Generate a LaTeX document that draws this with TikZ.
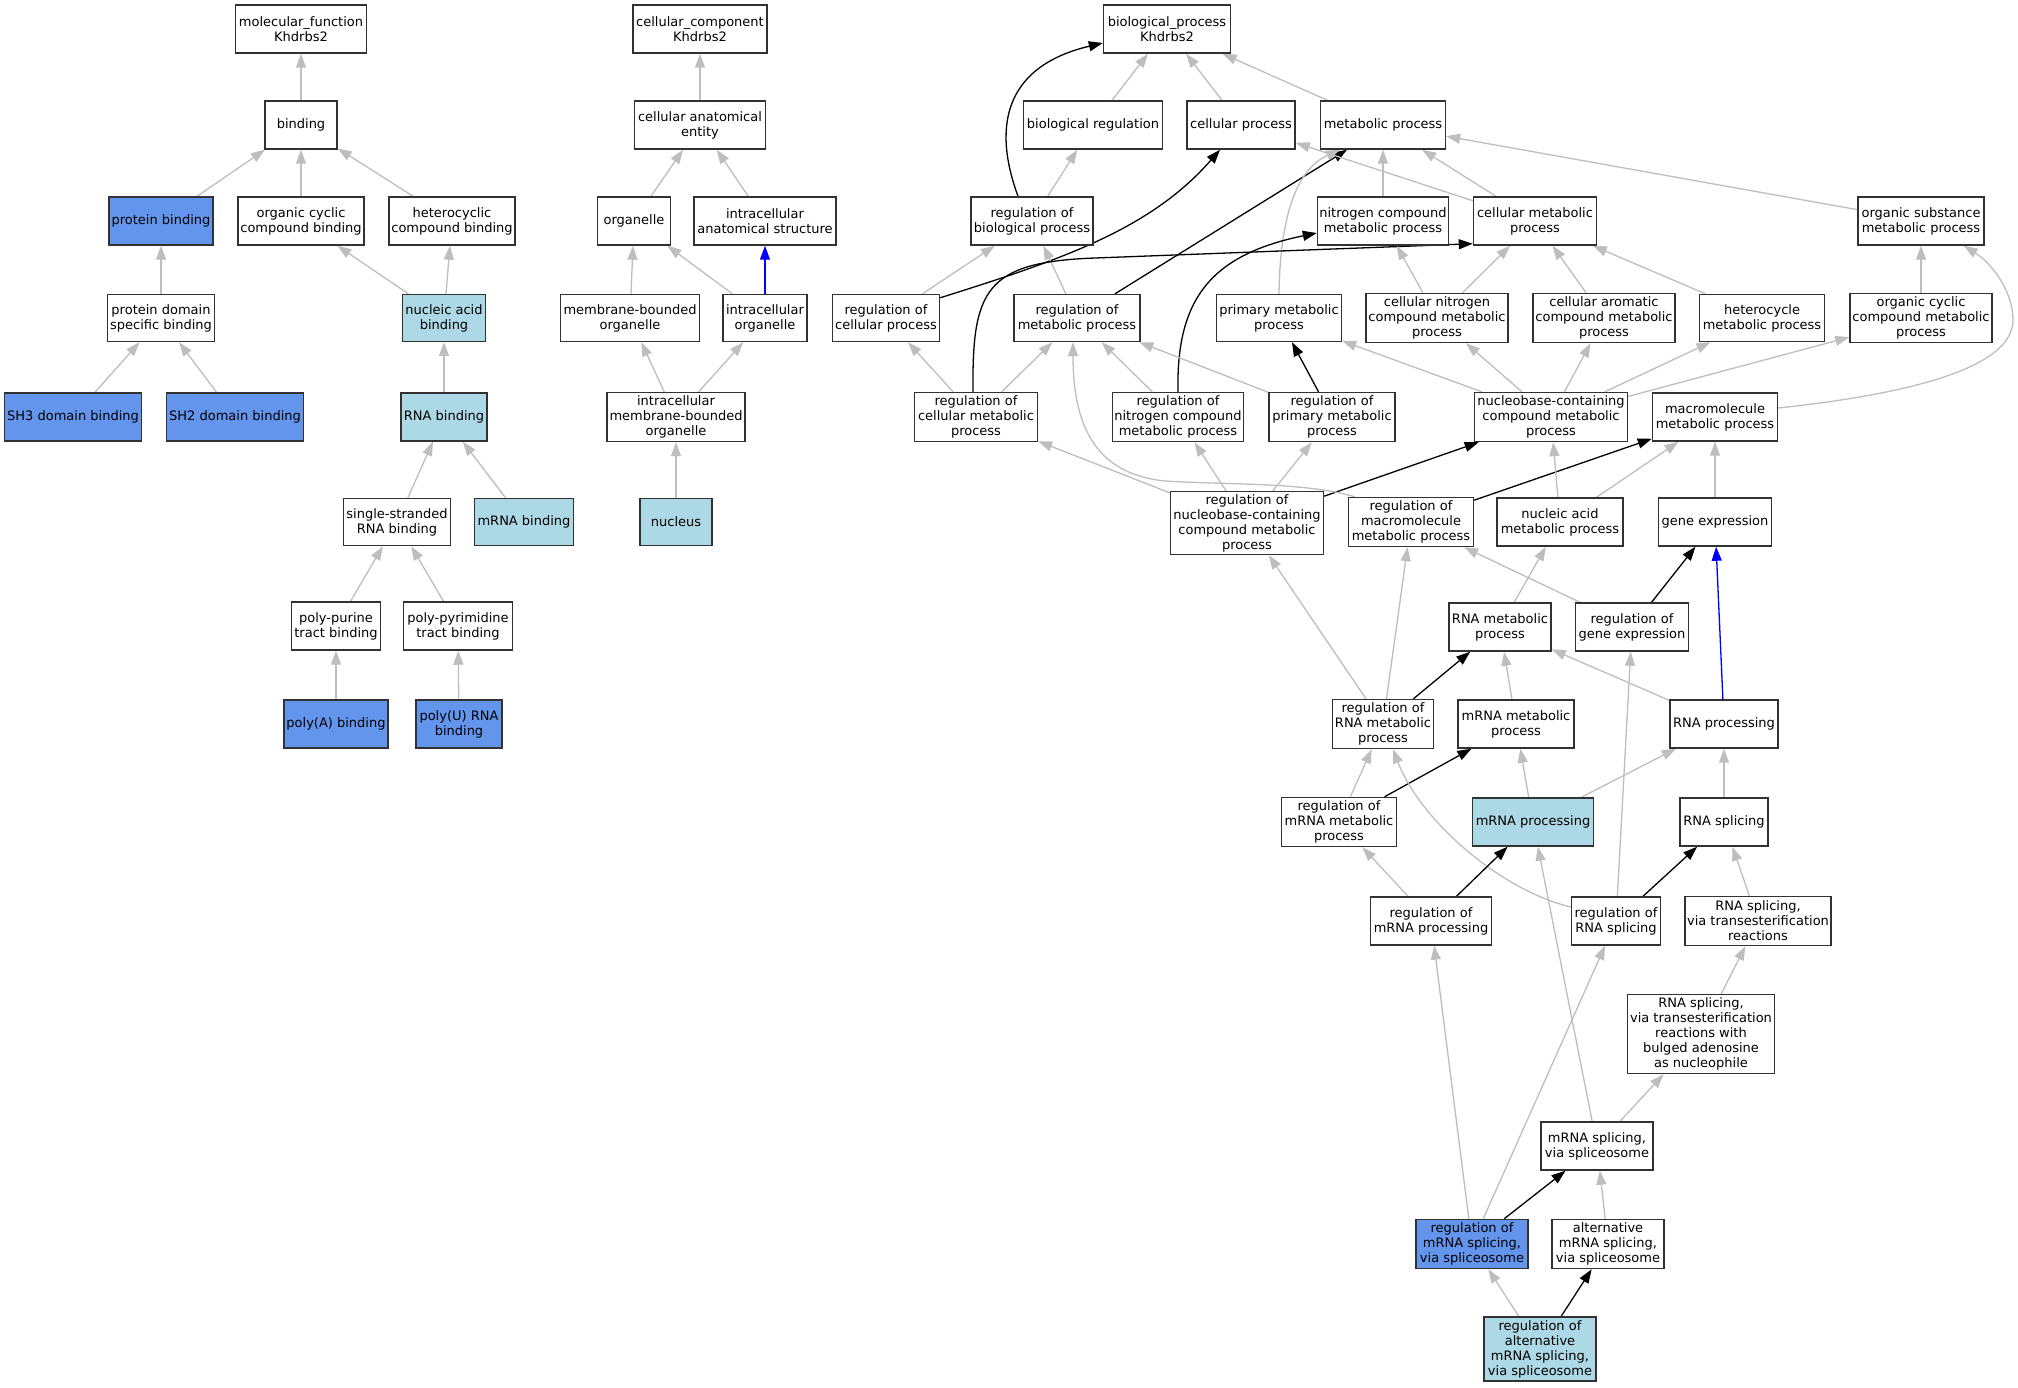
\documentclass[tikz,border=0pt]{standalone}
\usepackage{fontspec}
\setmainfont{DejaVu Sans}
\usetikzlibrary{arrows.meta,calc}
\definecolor{edgegray}{RGB}{190,190,190}
\definecolor{cfblue}{RGB}{100,149,237}
\definecolor{ltblue}{RGB}{173,216,230}
\definecolor{boxline}{RGB}{50,50,50}
\pgfdeclarelayer{bg}
\pgfsetlayers{bg,main}
\begin{document}
\begin{tikzpicture}[x=1pt,y=-1pt,
  box/.style={draw=boxline, line width=1.45pt, fill=white, inner sep=0pt, align=center, font=\fontsize{13}{15}\selectfont},
  hit/.style={box, fill=cfblue},
  ann/.style={box, fill=ltblue},
  tip/.style={-{Triangle[length=14pt,width=10pt]}},
  isa/.style={draw=edgegray, line width=1.3pt, tip},
  reg/.style={draw=black, line width=1.3pt, tip},
  partof/.style={draw=blue, line width=1.3pt, tip}]
\useasboundingbox (0,0) rectangle (2018,1387);
% ---------- molecular function ----------
\node[box, minimum width=131pt, minimum height=48pt] (mf) at (301,29) {molecular\_function\\Khdrbs2};
\node[box, minimum width=72pt, minimum height=48pt] (binding) at (301,125) {binding};
\node[hit, minimum width=104pt, minimum height=48pt] (pbind) at (161,221) {protein binding};
\node[box, minimum width=126pt, minimum height=48pt] (ocb) at (301,221) {organic cyclic\\compound binding};
\node[box, minimum width=126pt, minimum height=48pt] (hcb) at (452,221) {heterocyclic\\compound binding};
\node[box, minimum width=107pt, minimum height=47pt] (pdsb) at (161,318) {protein domain\\specific binding};
\node[ann, minimum width=83pt, minimum height=47pt] (nab) at (444,318) {nucleic acid\\binding};
\node[hit, minimum width=137pt, minimum height=48pt] (sh3) at (73,417) {SH3 domain binding};
\node[hit, minimum width=137pt, minimum height=48pt] (sh2) at (235,417) {SH2 domain binding};
\node[ann, minimum width=86pt, minimum height=48pt] (rnab) at (444,417) {RNA binding};
\node[box, minimum width=107pt, minimum height=47pt] (ssrb) at (397,522) {single-stranded\\RNA binding};
\node[ann, minimum width=99pt, minimum height=47pt] (mrnab) at (524,522) {mRNA binding};
\node[box, minimum width=89pt, minimum height=48pt] (ppur) at (336,626) {poly-purine\\tract binding};
\node[box, minimum width=109pt, minimum height=48pt] (ppyr) at (458,626) {poly-pyrimidine\\tract binding};
\node[hit, minimum width=104pt, minimum height=48pt] (polya) at (336,724) {poly(A) binding};
\node[hit, minimum width=86pt, minimum height=48pt] (polyu) at (459,724) {poly(U) RNA\\binding};
% ---------- cellular component ----------
\node[box, minimum width=134pt, minimum height=48pt] (cc) at (700,29) {cellular\_component\\Khdrbs2};
\node[box, minimum width=131pt, minimum height=48pt] (cae) at (700,125) {cellular anatomical\\entity};
\node[box, minimum width=73pt, minimum height=48pt] (org) at (634,221) {organelle};
\node[box, minimum width=142pt, minimum height=48pt] (ias) at (765,221) {intracellular\\anatomical structure};
\node[box, minimum width=139pt, minimum height=47pt] (mbo) at (630,318) {membrane-bounded\\organelle};
\node[box, minimum width=84pt, minimum height=47pt] (io) at (765,318) {intracellular\\organelle};
\node[box, minimum width=138pt, minimum height=49pt] (imbo) at (676,417) {intracellular\\membrane-bounded\\organelle};
\node[ann, minimum width=72pt, minimum height=47pt] (nucleus) at (676,522) {nucleus};
% ---------- biological process ----------
\node[box, minimum width=127pt, minimum height=48pt] (bp) at (1167,29) {biological\_process\\Khdrbs2};
\node[box, minimum width=139pt, minimum height=48pt] (breg) at (1093,125) {biological regulation};
\node[box, minimum width=108pt, minimum height=48pt] (cp) at (1241,125) {cellular process};
\node[box, minimum width=125pt, minimum height=48pt] (mp) at (1383,125) {metabolic process};
\node[box, minimum width=122pt, minimum height=48pt] (rbp) at (1032,221) {regulation of\\biological process};
\node[box, minimum width=131pt, minimum height=48pt] (ncmp) at (1383,221) {nitrogen compound\\metabolic process};
\node[box, minimum width=123pt, minimum height=48pt] (cmp) at (1535,221) {cellular metabolic\\process};
\node[box, minimum width=126pt, minimum height=48pt] (osmp) at (1921,221) {organic substance\\metabolic process};
\node[box, minimum width=107pt, minimum height=47pt] (rcp) at (886,318) {regulation of\\cellular process};
\node[box, minimum width=126pt, minimum height=47pt] (rmp) at (1077,318) {regulation of\\metabolic process};
\node[box, minimum width=125pt, minimum height=47pt] (pmp) at (1279,318) {primary metabolic\\process};
\node[box, minimum width=142pt, minimum height=49pt] (cncmp) at (1437,318) {cellular nitrogen\\compound metabolic\\process};
\node[box, minimum width=142pt, minimum height=49pt] (cacmp) at (1604,318) {cellular aromatic\\compound metabolic\\process};
\node[box, minimum width=125pt, minimum height=47pt] (hmp) at (1762,318) {heterocycle\\metabolic process};
\node[box, minimum width=142pt, minimum height=49pt] (occmp) at (1921,318) {organic cyclic\\compound metabolic\\process};
\node[box, minimum width=123pt, minimum height=49pt] (rcmp) at (976,417) {regulation of\\cellular metabolic\\process};
\node[box, minimum width=131pt, minimum height=49pt] (rncmp) at (1178,417) {regulation of\\nitrogen compound\\metabolic process};
\node[box, minimum width=126pt, minimum height=49pt] (rpmp) at (1332,417) {regulation of\\primary metabolic\\process};
\node[box, minimum width=153pt, minimum height=49pt] (nbcmp) at (1551,417) {nucleobase-containing\\compound metabolic\\process};
\node[box, minimum width=125pt, minimum height=48pt] (mmp) at (1715,417) {macromolecule\\metabolic process};
\node[box, minimum width=153pt, minimum height=63pt] (rnbcmp) at (1247,523) {regulation of\\nucleobase-containing\\compound metabolic\\process};
\node[box, minimum width=125pt, minimum height=49pt] (rmmp) at (1411,522) {regulation of\\macromolecule\\metabolic process};
\node[box, minimum width=126pt, minimum height=48pt] (namp) at (1560,522) {nucleic acid\\metabolic process};
\node[box, minimum width=113pt, minimum height=48pt] (ge) at (1715,522) {gene expression};
\node[box, minimum width=102pt, minimum height=48pt] (rnamp) at (1500,627) {RNA metabolic\\process};
\node[box, minimum width=113pt, minimum height=48pt] (rge) at (1632,627) {regulation of\\gene expression};
\node[box, minimum width=101pt, minimum height=49pt] (rrnamp) at (1383,724) {regulation of\\RNA metabolic\\process};
\node[box, minimum width=116pt, minimum height=48pt] (mrnamp) at (1516,724) {mRNA metabolic\\process};
\node[box, minimum width=108pt, minimum height=48pt] (rnap) at (1724,724) {RNA processing};
\node[box, minimum width=115pt, minimum height=49pt] (rmrnamp) at (1339,822) {regulation of\\mRNA metabolic\\process};
\node[ann, minimum width=121pt, minimum height=48pt] (mrnap) at (1533,822) {mRNA processing};
\node[box, minimum width=88pt, minimum height=48pt] (rnas) at (1724,822) {RNA splicing};
\node[box, minimum width=121pt, minimum height=48pt] (rmrnap) at (1431,921) {regulation of\\mRNA processing};
\node[box, minimum width=89pt, minimum height=48pt] (rrnas) at (1616,921) {regulation of\\RNA splicing};
\node[box, minimum width=146pt, minimum height=49pt] (rnast) at (1758,921) {RNA splicing,\\via transesterification\\reactions};
\node[box, minimum width=147pt, minimum height=79pt] (bulged) at (1701,1034) {RNA splicing,\\via transesterification\\reactions with\\bulged adenosine\\as nucleophile};
\node[box, minimum width=112pt, minimum height=48pt] (mss) at (1597,1146) {mRNA splicing,\\via spliceosome};
\node[hit, minimum width=112pt, minimum height=49pt] (rmss) at (1472,1244) {regulation of\\mRNA splicing,\\via spliceosome};
\node[box, minimum width=112pt, minimum height=49pt] (amss) at (1608,1244) {alternative\\mRNA splicing,\\via spliceosome};
\node[ann, minimum width=112pt, minimum height=64pt] (ramss) at (1540,1349) {regulation of\\alternative\\mRNA splicing,\\via spliceosome};
% ---------- edges ----------
\begin{pgfonlayer}{bg}
\fill[white] (0,0) rectangle (2018,1387);
% MF
\draw[isa] (binding) -- (mf);
\draw[isa] (pbind) -- (binding);
\draw[isa] (ocb) -- (binding);
\draw[isa] (hcb) -- (binding);
\draw[isa] (pdsb) -- (pbind);
\draw[isa] (sh3) -- (pdsb);
\draw[isa] (sh2) -- (pdsb);
\draw[isa] (nab) -- (ocb);
\draw[isa] (nab) -- (hcb);
\draw[isa] (rnab) -- (nab);
\draw[isa] (ssrb) -- (rnab);
\draw[isa] (mrnab) -- (rnab);
\draw[isa] (ppur) -- (ssrb);
\draw[isa] (ppyr) -- (ssrb);
\draw[isa] (polya) -- (ppur);
\draw[isa] (polyu) -- (ppyr);
% CC
\draw[isa] (cae) -- (cc);
\draw[isa] (org) -- (cae);
\draw[isa] (ias) -- (cae);
\draw[isa] (mbo) -- (org);
\draw[isa] (io) -- (org);
\draw[partof] (io) -- (ias);
\draw[isa] (imbo) -- (mbo);
\draw[isa] (imbo) -- (io);
\draw[isa] (nucleus) -- (imbo);
% BP
\draw[isa] (breg) -- (bp);
\draw[isa] (cp) -- (bp);
\draw[isa] (mp) -- (bp);
\draw[reg] ($(rbp.north)+(-14,0)$) .. controls (990,120) and (1010,65) .. ($(bp.west)+(0,14)$);
\draw[isa] (rbp) -- (breg);
\draw[isa] (rcp) -- (rbp);
\draw[reg] ($(rcp.north east)+(0,4)$) .. controls (1060,260) and (1150,230) .. ($(cp.south)+(-21,0)$);
\draw[isa] (rmp) -- (rbp);
\draw[reg] ($(rmp.north)+(38,0)$) -- ($(mp.south)+(-36,0)$);
\draw[isa] (cmp) -- (cp);
\draw[isa] (cmp) -- (mp);
\draw[isa] (ncmp) -- (mp);
\draw[isa] (pmp.north) .. controls (1280,220) and (1295,170) .. ($(mp.south)+(-43,0)$);
\draw[isa] (osmp) -- (mp);
\draw[isa] (rcmp) -- (rcp);
\draw[isa] (rcmp) -- (rmp);
\draw[reg] ($(rcmp.north)+(-3,0)$) .. controls (972,290) and (985,262) .. (1095,258) -- ($(cmp.south west)+(0,-2)$);
\draw[isa] (rncmp) -- (rmp);
\draw[reg] (rncmp.north) .. controls (1176,300) and (1210,255) .. ($(ncmp.west)+(0,12)$);
\draw[isa] (rpmp) -- (rmp);
\draw[reg] (rpmp) -- (pmp);
\draw[isa] (cncmp) -- (ncmp);
\draw[isa] (cncmp) -- (cmp);
\draw[isa] (cacmp) -- (cmp);
\draw[isa] (hmp) -- (cmp);
\draw[isa] (occmp) -- (osmp);
\draw[isa] (nbcmp) -- (pmp);
\draw[isa] (nbcmp) -- (cncmp);
\draw[isa] (nbcmp) -- (cacmp);
\draw[isa] (nbcmp) -- (hmp);
\draw[isa] (nbcmp) -- (occmp);
\draw[isa] ($(mmp.east)+(0,-9)$) .. controls (1900,395) and (2013,370) .. (2013,320) .. controls (2013,290) and (1990,262) .. ($(osmp.south east)+(-21,0)$);
\draw[isa] (rnbcmp) -- (rcmp);
\draw[isa] (rnbcmp) -- (rncmp);
\draw[isa] (rnbcmp) -- (rpmp);
\draw[reg] (rnbcmp) -- (nbcmp);
\draw[isa] ($(rmmp.north west)+(7,0)$) .. controls (1305,482) and (1230,485) .. (1165,481) .. controls (1095,474) and (1073,425) .. ($(rmp.south)+(-4,0)$);
\draw[reg] (rmmp) -- (mmp);
\draw[isa] (namp) -- (nbcmp);
\draw[isa] (namp) -- (mmp);
\draw[isa] (ge) -- (mmp);
\draw[isa] (rge) -- (rmmp);
\draw[reg] (rge) -- (ge);
\draw[isa] (rnamp) -- (namp);
\draw[isa] (rrnamp) -- (rnbcmp);
\draw[isa] (rrnamp) -- (rmmp);
\draw[reg] (rrnamp) -- (rnamp);
\draw[isa] (mrnamp) -- (rnamp);
\draw[isa] (rnap) -- (rnamp);
\draw[partof] (rnap) -- (ge);
\draw[isa] (rrnas) -- (rge);
\draw[isa] (rmrnamp) -- (rrnamp);
\draw[reg] (rmrnamp) -- (mrnamp);
\draw[isa] (mrnap) -- (mrnamp);
\draw[isa] (mrnap) -- (rnap);
\draw[isa] (rnas) -- (rnap);
\draw[isa] ($(rrnas.west)+(0,-14)$) .. controls (1500,890) and (1420,820) .. ($(rrnamp.south)+(10,0)$);
\draw[isa] (rmrnap) -- (rmrnamp);
\draw[reg] (rmrnap) -- (mrnap);
\draw[reg] (rrnas) -- (rnas);
\draw[isa] (rnast) -- (rnas);
\draw[isa] (bulged) -- (rnast);
\draw[isa] (mss) -- (bulged);
\draw[isa] (mss) -- (mrnap);
\draw[isa] (rmss) -- (rmrnap);
\draw[isa] (rmss) -- (rrnas);
\draw[reg] (rmss) -- (mss);
\draw[isa] (amss) -- (mss);
\draw[isa] (ramss) -- (rmss);
\draw[reg] (ramss) -- (amss);
\end{pgfonlayer}
\end{tikzpicture}
\end{document}
